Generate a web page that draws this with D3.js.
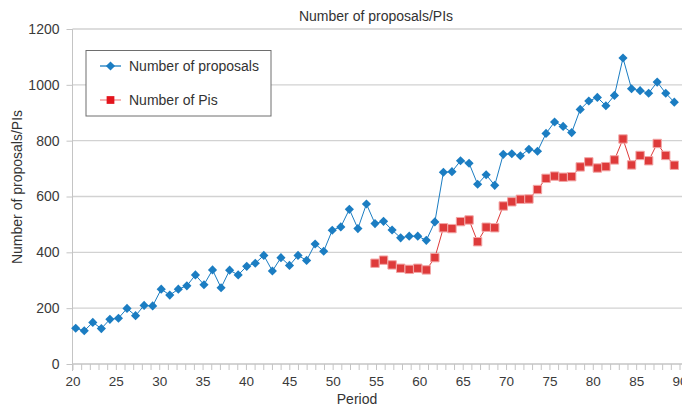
<!DOCTYPE html>
<html>
<head>
<meta charset="utf-8">
<script src="https://cdn.jsdelivr.net/npm/d3@7"></script>
<style>
	body { margin: 0; background: #fff; }
	svg { display: block; font-family: "Liberation Sans", Arial, sans-serif; }
	.axis text { fill: #3a3a3a; }
</style>
</head>
<body>
<svg id="chart" width="682" height="408"></svg>
<script>
// periods shown on the x axis, one point per period
var periods = d3.range(20, 91);
var proposals = [
	128, 119, 149, 127, 160, 164, 199, 173, 210, 208,
	268, 247, 268, 280, 319, 284, 337, 273, 336, 319,
	350, 361, 389, 333, 381, 353, 389, 371, 430, 404,
	479, 491, 554, 485, 573, 503, 511, 480, 452, 458,
	458, 443, 509, 687, 689, 728, 719, 644, 678, 640,
	751, 753, 746, 769, 762, 826, 867, 851, 829, 912,
	942, 955, 925, 962, 1096, 986, 979, 970, 1010, 970,
	938
];
// PIs only start at period 55
var piPeriods = d3.range(55, 91);
var pis = [
	361, 372, 355, 343, 339, 343, 337, 381, 488, 485,
	510, 516, 438, 490, 488, 566, 581, 590, 591, 625,
	665, 673, 669, 671, 706, 724, 702, 707, 731, 806,
	713, 747, 728, 790, 747, 712
];
var yTicks = [0, 200, 400, 600, 800, 1000, 1200];
var xTickLabels = [20, 25, 30, 35, 40, 45, 50, 55, 60, 65, 70, 75, 80, 85, 90];

var blue = '#1b7dc2', red = '#de3a3a';

var svg = d3.select('#chart');
var plotLeft = 72.5, plotRight = 682, plotTop = 29, plotBottom = 364;

// axis scale (ticks) and the point scale used to place the marks
var xAxis = d3.scaleLinear().domain([20, 90]).range([plotLeft, 679.5]);
var x = d3.scalePoint().domain(periods).range([75.7, 674.3]);
var y = d3.scaleLinear().domain([0, 1200]).range([plotBottom, plotTop]);

// gridlines
svg.append('g')
	.selectAll('line')
	.data(yTicks.slice(1)).enter().append('line')
	.attr('x1', plotLeft).attr('x2', plotRight)
	.attr('y1', function(d) { return y(d); })
	.attr('y2', function(d) { return y(d); })
	.attr('stroke', '#d2d2d2').attr('stroke-width', 1.3);

// y axis
var gy = svg.append('g')
	.attr('class', 'axis')
	.attr('transform', 'translate(' + plotLeft + ',0)')
	.call(d3.axisLeft(y).tickValues(yTicks).tickSize(6).tickPadding(7).tickFormat(d3.format('d')));
gy.select('.domain').remove();
gy.selectAll('.tick line').attr('stroke', '#c4c4c4');
gy.selectAll('.tick text').style('font-size', '14px');
svg.append('line')
	.attr('x1', plotLeft).attr('x2', plotLeft)
	.attr('y1', plotTop).attr('y2', plotBottom + 7)
	.attr('stroke', '#c4c4c4');

// x axis: a tick per period, labels every 5
var gx = svg.append('g')
	.attr('class', 'axis')
	.attr('transform', 'translate(0,' + plotBottom + ')')
	.call(d3.axisBottom(xAxis).tickValues(periods).tickSize(6).tickPadding(6)
		.tickFormat(function(d) { return xTickLabels.indexOf(d) >= 0 ? d : ''; }));
gx.select('.domain').remove();
gx.selectAll('.tick line').attr('stroke', '#c4c4c4');
gx.selectAll('.tick text').style('font-size', '13.5px');
svg.append('line')
	.attr('x1', plotLeft).attr('x2', plotRight)
	.attr('y1', plotBottom).attr('y2', plotBottom)
	.attr('stroke', '#c4c4c4').attr('stroke-width', 1.3);

// titles
svg.append('text')
	.attr('x', 376).attr('y', 21)
	.attr('text-anchor', 'middle')
	.attr('fill', '#333')
	.style('font-size', '14px')
	.text('Number of proposals/PIs');
svg.append('text')
	.attr('x', 357).attr('y', 404)
	.attr('text-anchor', 'middle')
	.attr('fill', '#333')
	.style('font-size', '14px')
	.text('Period');
svg.append('text')
	.attr('transform', 'translate(22,187) rotate(-90)')
	.attr('text-anchor', 'middle')
	.attr('fill', '#333')
	.style('font-size', '14px')
	.text('Number of proposals/PIs');

var diamond = d3.symbol().type(d3.symbolSquare).size(42);
var square = d3.symbol().type(d3.symbolSquare).size(70);

// proposals series
var lineP = d3.line()
	.x(function(d, i) { return x(periods[i]); })
	.y(function(d) { return y(d); });
svg.append('path')
	.datum(proposals)
	.attr('d', lineP)
	.attr('fill', 'none')
	.attr('stroke', blue).attr('stroke-width', 1);
svg.append('g')
	.selectAll('path')
	.data(proposals).enter().append('path')
	.attr('d', diamond)
	.attr('transform', function(d, i) { return 'translate(' + x(periods[i]) + ',' + y(d) + ') rotate(45)'; })
	.attr('fill', blue);

// PIs series
var lineR = d3.line()
	.x(function(d, i) { return x(piPeriods[i]); })
	.y(function(d) { return y(d); });
svg.append('path')
	.datum(pis)
	.attr('d', lineR)
	.attr('fill', 'none')
	.attr('stroke', red).attr('stroke-width', 1);
svg.append('g')
	.selectAll('path')
	.data(pis).enter().append('path')
	.attr('d', square)
	.attr('transform', function(d, i) { return 'translate(' + x(piPeriods[i]) + ',' + y(d) + ')'; })
	.attr('fill', red)
	.attr('stroke', '#f2a5a5').attr('stroke-width', 1);

// legend
var legend = svg.append('g');
legend.append('rect')
	.attr('x', 86).attr('y', 50.5)
	.attr('width', 185).attr('height', 65.5)
	.attr('fill', '#fff')
	.attr('stroke', '#6e6e6e').attr('stroke-width', 1);
var items = [
	{ label: 'Number of proposals', color: blue, line: blue, sym: diamond, rot: 45, y: 66 },
	{ label: 'Number of Pis', color: '#e3141c', line: '#f28d8d', sym: d3.symbol().type(d3.symbolSquare).size(60), rot: 0, y: 100 }
];
var li = legend.selectAll('.item').data(items).enter().append('g').attr('class', 'item');
li.append('line')
	.attr('x1', 100).attr('x2', 121)
	.attr('y1', function(d) { return d.y; }).attr('y2', function(d) { return d.y; })
	.attr('stroke', function(d) { return d.line; }).attr('stroke-width', 1.3);
li.append('path')
	.attr('d', function(d) { return d.sym(); })
	.attr('transform', function(d) { return 'translate(110.5,' + d.y + ') rotate(' + d.rot + ')'; })
	.attr('fill', function(d) { return d.color; });
li.append('text')
	.attr('x', 129)
	.attr('y', function(d) { return d.y + 5; })
	.attr('fill', '#333')
	.style('font-size', '14px')
	.text(function(d) { return d.label; });
</script>
</body>
</html>
